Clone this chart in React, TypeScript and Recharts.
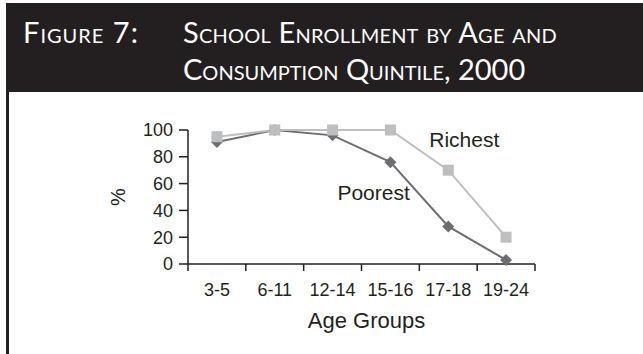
import { LineChart, Line, XAxis, YAxis, Label, LabelList } from "recharts";

const ageGroups = ["3-5", "6-11", "12-14", "15-16", "17-18", "19-24"];
const poorest = [91, 100, 96, 76, 28, 3];
const richest = [95, 100, 100, 100, 70, 20];
const percentTicks = [0, 20, 40, 60, 80, 100];

const data = ageGroups.map((age, i) => ({
  age,
  poorest: poorest[i],
  richest: richest[i],
}));

const W = 643;
const H = 354;
const margin = { top: 130, right: 108, bottom: 20, left: 128 };
const yAxisWidth = 60;
const plotWidth = W - margin.left - margin.right - yAxisWidth;
const halfBand = plotWidth / ageGroups.length / 2;

const ink = "#231f20";
const darkGray = "#6d6e71";
const lightGray = "#bcbec0";
const chartFont = "'Liberation Sans', Arial, sans-serif";

const Square = (props: any) => {
  const { cx, cy, index } = props;
  return <rect key={`sq-${index}`} x={cx - 5.5} y={cy - 5.5} width={11} height={11} fill={lightGray} />;
};

const Diamond = (props: any) => {
  const { cx, cy, index } = props;
  const r = 6;
  return (
    <polygon
      key={`dm-${index}`}
      points={`${cx},${cy - r} ${cx + r},${cy} ${cx},${cy + r} ${cx - r},${cy}`}
      fill={darkGray}
    />
  );
};

// category labels sit mid-band, tick marks go on the band edges
const AgeTick = (props: any) => {
  const { x, y, payload, index } = props;
  return (
    <g>
      <line x1={x - halfBand} y1={y} x2={x - halfBand} y2={y + 7} stroke={ink} strokeWidth={1.5} />
      {index === ageGroups.length - 1 && (
        <line x1={x + halfBand} y1={y} x2={x + halfBand} y2={y + 7} stroke={ink} strokeWidth={1.5} />
      )}
      <text x={x} y={y + 32} textAnchor="middle" fontSize={18} fill={ink} fontFamily={chartFont}>
        {payload.value}
      </text>
    </g>
  );
};

const seriesLabel = (text: string, at: number, dx: number, dy: number) => (props: any) => {
  const { x, y, index } = props;
  if (index !== at) return null;
  return (
    <text x={x + dx} y={y + dy} fontSize={21} fill={ink} fontFamily={chartFont}>
      {text}
    </text>
  );
};

const YTitle = (props: any) => {
  const { viewBox } = props;
  const cx = viewBox.x - 10;
  const cy = viewBox.y + viewBox.height / 2;
  return (
    <text
      x={cx}
      y={cy}
      transform={`rotate(-90 ${cx} ${cy})`}
      textAnchor="middle"
      dominantBaseline="central"
      fontSize={20}
      fill={ink}
      fontFamily={chartFont}
    >
      %
    </text>
  );
};

const XTitle = (props: any) => {
  const { viewBox } = props;
  return (
    <text
      x={viewBox.x + viewBox.width / 2 + 5}
      y={viewBox.y + 64}
      textAnchor="middle"
      fontSize={22}
      fill={ink}
      fontFamily={chartFont}
    >
      Age Groups
    </text>
  );
};

export default function App() {
  return (
    <div style={{ position: "fixed", left: 0, top: 0, width: W, height: H, background: "#fff", overflow: "hidden" }}>
      <div
        style={{
          position: "absolute",
          left: 6,
          top: 3,
          right: 0,
          height: 89,
          background: ink,
          color: "#fff",
          fontFamily: "Lato, 'Open Sans', sans-serif",
          fontVariant: "small-caps",
          fontSize: 29,
          lineHeight: "37px",
          whiteSpace: "nowrap",
        }}
      >
        <div style={{ position: "absolute", left: 17, top: 10, letterSpacing: 1 }}>Figure 7:</div>
        <div style={{ position: "absolute", left: 177, top: 10 }}>
          <div style={{ letterSpacing: 0.2 }}>School Enrollment by Age and</div>
          <div>Consumption Quintile, 2000</div>
        </div>
      </div>
      <div style={{ position: "absolute", left: 6, top: 92, width: 3, bottom: 0, background: ink }} />
      <div style={{ position: "absolute", left: 0, top: 0 }}>
        <LineChart width={W} height={H} data={data} margin={margin}>
          <XAxis
            dataKey="age"
            height={70}
            padding={{ left: halfBand, right: halfBand }}
            stroke={ink}
            strokeWidth={1.5}
            tickLine={false}
            tickSize={0}
            tickMargin={0}
            tick={AgeTick}
            interval={0}
          >
            <Label content={XTitle} />
          </XAxis>
          <YAxis
            width={yAxisWidth}
            domain={[0, 100]}
            ticks={percentTicks}
            interval={0}
            stroke={ink}
            strokeWidth={1.5}
            tickSize={9}
            tickMargin={6}
            tick={{ fontSize: 18, fill: ink, fontFamily: chartFont }}
          >
            <Label content={YTitle} />
          </YAxis>
          <Line
            dataKey="poorest"
            stroke={darkGray}
            strokeWidth={2}
            dot={Diamond}
            activeDot={false}
            isAnimationActive={false}
          >
            <LabelList dataKey="poorest" content={seriesLabel("Poorest", 3, -53, 38)} />
          </Line>
          <Line
            dataKey="richest"
            stroke={lightGray}
            strokeWidth={2}
            dot={Square}
            activeDot={false}
            isAnimationActive={false}
          >
            <LabelList dataKey="richest" content={seriesLabel("Richest", 4, -19, -23)} />
          </Line>
        </LineChart>
      </div>
    </div>
  );
}
